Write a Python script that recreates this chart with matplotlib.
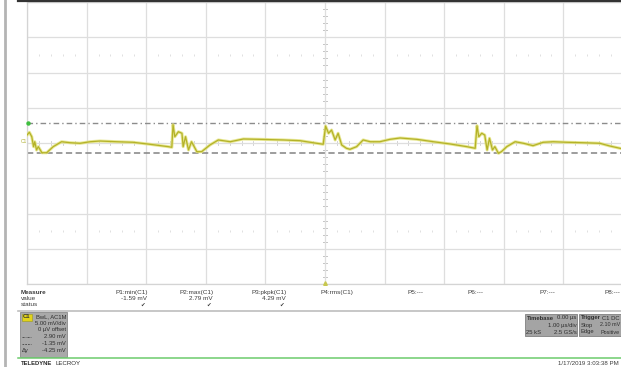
import matplotlib.pyplot as plt
import numpy as np
from matplotlib.patches import Rectangle
from matplotlib.lines import Line2D

plt.rcParams['font.family'] = ['Liberation Sans', 'DejaVu Sans']
plt.rcParams['lines.scale_dashes'] = False

# C1 trace, time in us and amplitude in mV
t_us = [-5.00, -4.96, -4.92, -4.89, -4.87, -4.84, -4.81, -4.75, -4.67, -4.56,
        -4.42, -4.28, -4.11, -3.94, -3.78, -3.49, -3.22, -2.94, -2.63, -2.57,
        -2.55, -2.52, -2.46, -2.40, -2.38, -2.34, -2.29, -2.24, -2.15, -2.07,
        -1.93, -1.79, -1.59, -1.37, -1.09, -0.70, -0.42, -0.14, -0.03,
        0.01, 0.06, 0.11, 0.17, 0.22, 0.28, 0.36, 0.42, 0.53, 0.64,
        0.76, 0.92, 1.09, 1.26, 1.54, 1.82, 2.10, 2.38, 2.52,
        2.55, 2.58, 2.63, 2.68, 2.72, 2.76, 2.81, 2.85, 2.91, 2.96,
        3.05, 3.19, 3.33, 3.49, 3.66, 3.83, 4.06, 4.33, 4.61, 4.78, 4.95, 5.00]
v_mv = [1.13, 1.52, 0.89, -0.52, 0.18, -0.99, -0.52, -1.38, -1.38, -0.52,
        0.18, 0.04, -0.04, 0.18, 0.28, 0.18, 0.10, -0.18, -0.52, -0.61,
        2.60, 0.89, 1.60, 1.38, -0.52, 0.89, -0.99, 0.18, -1.23, -1.23,
        -0.28, 0.43, 0.18, 0.57, 0.52, 0.43, 0.33, -0.04, -0.18,
        2.40, 1.38, 1.84, 0.43, 1.38, -0.28, -0.75, -0.89, -0.52, 0.43,
        0.18, 0.18, 0.52, 0.71, 0.52, 0.18, -0.14, -0.52, -0.75,
        2.45, 0.89, 1.38, 1.13, -0.99, 0.67, -0.99, -0.52, -1.46, -1.23,
        -0.52, 0.18, -0.04, -0.38, 0.10, 0.18, 0.10, 0.04, -0.04, -0.43, -0.75, -0.85]

cursor_a = 2.90
cursor_b = -1.35

meas_names = ['P1:min(C1)', 'P2:max(C1)', 'P3:pkpk(C1)', 'P4:rms(C1)',
              'P5:---', 'P6:---', 'P7:---', 'P8:---']
meas_values = ['-1.59 mV', '2.79 mV', '4.29 mV', '', '', '', '', '']

W, H = 621, 367


def fx(x):
    return x / W


def fy(y):
    return 1 - y / H


fig = plt.figure(figsize=(6.21, 3.67), dpi=100)
fig.set_facecolor('white')

# scope grid: 10 x 1 us, 8 x 5 mV
ax = fig.add_axes([27 / W, 1 - 284 / H, 596 / W, 282 / H])
ax.set_xlim(-5, 5)
ax.set_ylim(-20, 20)
ax.set_xticks(np.arange(-5, 6, 1))
ax.set_yticks(np.arange(-20, 21, 5))
ax.tick_params(length=0, labelbottom=False, labelleft=False)
ax.grid(color='#dedede', linewidth=0.9, zorder=1)
for s in ax.spines.values():
    s.set_color('#d4d4d4')
    s.set_linewidth(0.9)

# minor ticks on the centre axes
mt = np.arange(-5, 5.01, 0.2)
mv = np.arange(-20, 20.01, 1.0)
for v in mv:
    ax.plot([-0.04, 0.04], [v, v], color='#c4c4c4', lw=0.7, zorder=1)
for t in mt:
    ax.plot([t, t], [-0.3, 0.3], color='#cccccc', lw=0.6, zorder=1)
for row in (12.5, -12.5):
    ax.plot(mt, np.full_like(mt, row), ls='none', marker='|', ms=2,
            mew=0.6, color='#dadada', zorder=1)

# cursors
ax.axhline(cursor_a, color='#8c8c8c', lw=1.0, dashes=(4, 2.2, 1, 2.2), zorder=2)
ax.axhline(cursor_b, color='#8c8c8c', lw=1.2, dashes=(4.5, 2.5), zorder=2)
ax.plot([-4.98], [cursor_a], marker='o', ms=2.2, color='#3fbf3f',
        clip_on=False, zorder=4)

# trace
ax.plot(t_us, v_mv, color='#e2e27a', lw=2.2, alpha=0.8, zorder=3,
        solid_joinstyle='round')
ax.plot(t_us, v_mv, color='#b4b228', lw=0.9, zorder=3, solid_joinstyle='round')

# trigger position marker
ax.plot([0], [-19.9], marker='^', ms=2.6, color='#c8c850', clip_on=False, zorder=4)

# ground label
fig.text(fx(21), fy(142), 'C1', fontsize=3.5, color='#b0b030',
         ha='left', va='center')

# frame lines
fig.add_artist(Line2D([fx(18), 1], [fy(0.6), fy(0.6)], color='#333333', lw=1.6))
fig.add_artist(Line2D([fx(5), fx(5)], [0, 1], color='#b4b4b4', lw=2.0))
fig.add_artist(Line2D([fx(18), 1], [fy(311), fy(311)], color='#bdbdbd', lw=1.2))
fig.add_artist(Line2D([fx(18), 1], [fy(358), fy(358)], color='#6ccc6c', lw=1.1))

tc = '#3c3c3c'
fs = 4.6

# measurement table
fig.text(fx(21), fy(292.5), 'Measure', fontsize=fs, color=tc, weight='bold',
         va='center')
fig.text(fx(21), fy(298.5), 'value', fontsize=fs, color=tc, va='center')
fig.text(fx(21), fy(304.5), 'status', fontsize=fs, color=tc, va='center')
col_right = [148, 214, 287, 353, 423, 483, 555, 620]
for name, val, xr in zip(meas_names, meas_values, col_right):
    fig.text(fx(xr), fy(292.5), name, fontsize=fs, color=tc, ha='right',
             va='center')
    if val:
        fig.text(fx(xr - 1), fy(298.5), val, fontsize=fs, color=tc,
                 ha='right', va='center')
        fig.text(fx(xr - 5), fy(305), '\u2714', fontsize=4, color=tc,
                 ha='center', va='center')

# channel descriptor box
fig.add_artist(Rectangle((fx(20), fy(357)), fx(47), 45 / H,
                         facecolor='#a9a9a9', edgecolor='#8a8a8a', lw=0.6))
fig.add_artist(Rectangle((fx(21.5), fy(320.5)), fx(10.5), 7 / H,
                         facecolor='#e2d31a', edgecolor='#9a9a20', lw=0.4))
fig.text(fx(26.7), fy(317), 'C1', fontsize=4.2, color='#333333', weight='bold',
         ha='center', va='center')
bt = '#2e2e2e'
bfs = 4.2
fig.text(fx(66), fy(316.8), 'BwL, AC1M', fontsize=bfs, color=bt, ha='right', va='center')
fig.text(fx(66), fy(323.5), '5.00 mV/div', fontsize=bfs, color=bt, ha='right', va='center')
fig.text(fx(66), fy(330), '0 \u00b5V offset', fontsize=bfs, color=bt, ha='right', va='center')
fig.text(fx(66), fy(336.8), '2.90 mV', fontsize=bfs, color=bt, ha='right', va='center')
fig.text(fx(66), fy(343.5), '-1.35 mV', fontsize=bfs, color=bt, ha='right', va='center')
fig.text(fx(66), fy(350.2), '-4.25 mV', fontsize=bfs, color=bt, ha='right', va='center')
fig.add_artist(Line2D([fx(22), fx(31)], [fy(337), fy(337)], color=bt, lw=0.5,
                      dashes=(1.5, 0.8, 0.5, 0.8)))
fig.add_artist(Line2D([fx(22), fx(31)], [fy(343.5), fy(343.5)], color=bt, lw=0.5,
                      dashes=(1.2, 0.8)))
fig.text(fx(22), fy(350.2), '\u0394y', fontsize=bfs, color=bt, ha='left', va='center')

# timebase / trigger boxes
fig.add_artist(Rectangle((fx(525), fy(336)), fx(52), 22 / H,
                         facecolor='#a4a4a4', edgecolor='#808080', lw=0.6))
fig.add_artist(Rectangle((fx(579), fy(336)), fx(44), 22 / H,
                         facecolor='#a4a4a4', edgecolor='#808080', lw=0.6))
fig.text(fx(526.5), fy(318), 'Timebase', fontsize=bfs, color=bt, weight='bold', va='center')
fig.text(fx(576.5), fy(318), '0.00 \u00b5s', fontsize=bfs, color=bt, ha='right', va='center')
fig.text(fx(576.5), fy(325), '1.00 \u00b5s/div', fontsize=bfs, color=bt, ha='right', va='center')
fig.text(fx(526.5), fy(332), '25 kS', fontsize=bfs, color=bt, va='center')
fig.text(fx(576.5), fy(332), '2.5 GS/s', fontsize=bfs, color=bt, ha='right', va='center')
fig.text(fx(580.5), fy(318), 'Trigger', fontsize=bfs, color=bt, weight='bold', va='center')
fig.text(fx(620), fy(318), 'C1 DC', fontsize=bfs, color=bt, ha='right', va='center')
fig.text(fx(580.5), fy(325), 'Stop', fontsize=bfs, color=bt, va='center')
fig.text(fx(620), fy(325), '2.10 mV', fontsize=3.9, color=bt, ha='right', va='center')
fig.text(fx(580.5), fy(332), 'Edge', fontsize=bfs, color=bt, va='center')
fig.text(fx(620), fy(332), 'Positive', fontsize=3.9, color=bt, ha='right', va='center')

# footer
fig.text(fx(21), fy(363.5), 'TELEDYNE', fontsize=4.2, color='#2a2a2a', weight='bold', va='center')
fig.text(fx(55), fy(363.5), 'LECROY', fontsize=4.4, color='#2a2a2a', va='center')
fig.text(fx(619), fy(363.5), '1/17/2019 3:03:38 PM', fontsize=4.4, color=tc,
         ha='right', va='center')

plt.savefig('out.png', dpi=100)
